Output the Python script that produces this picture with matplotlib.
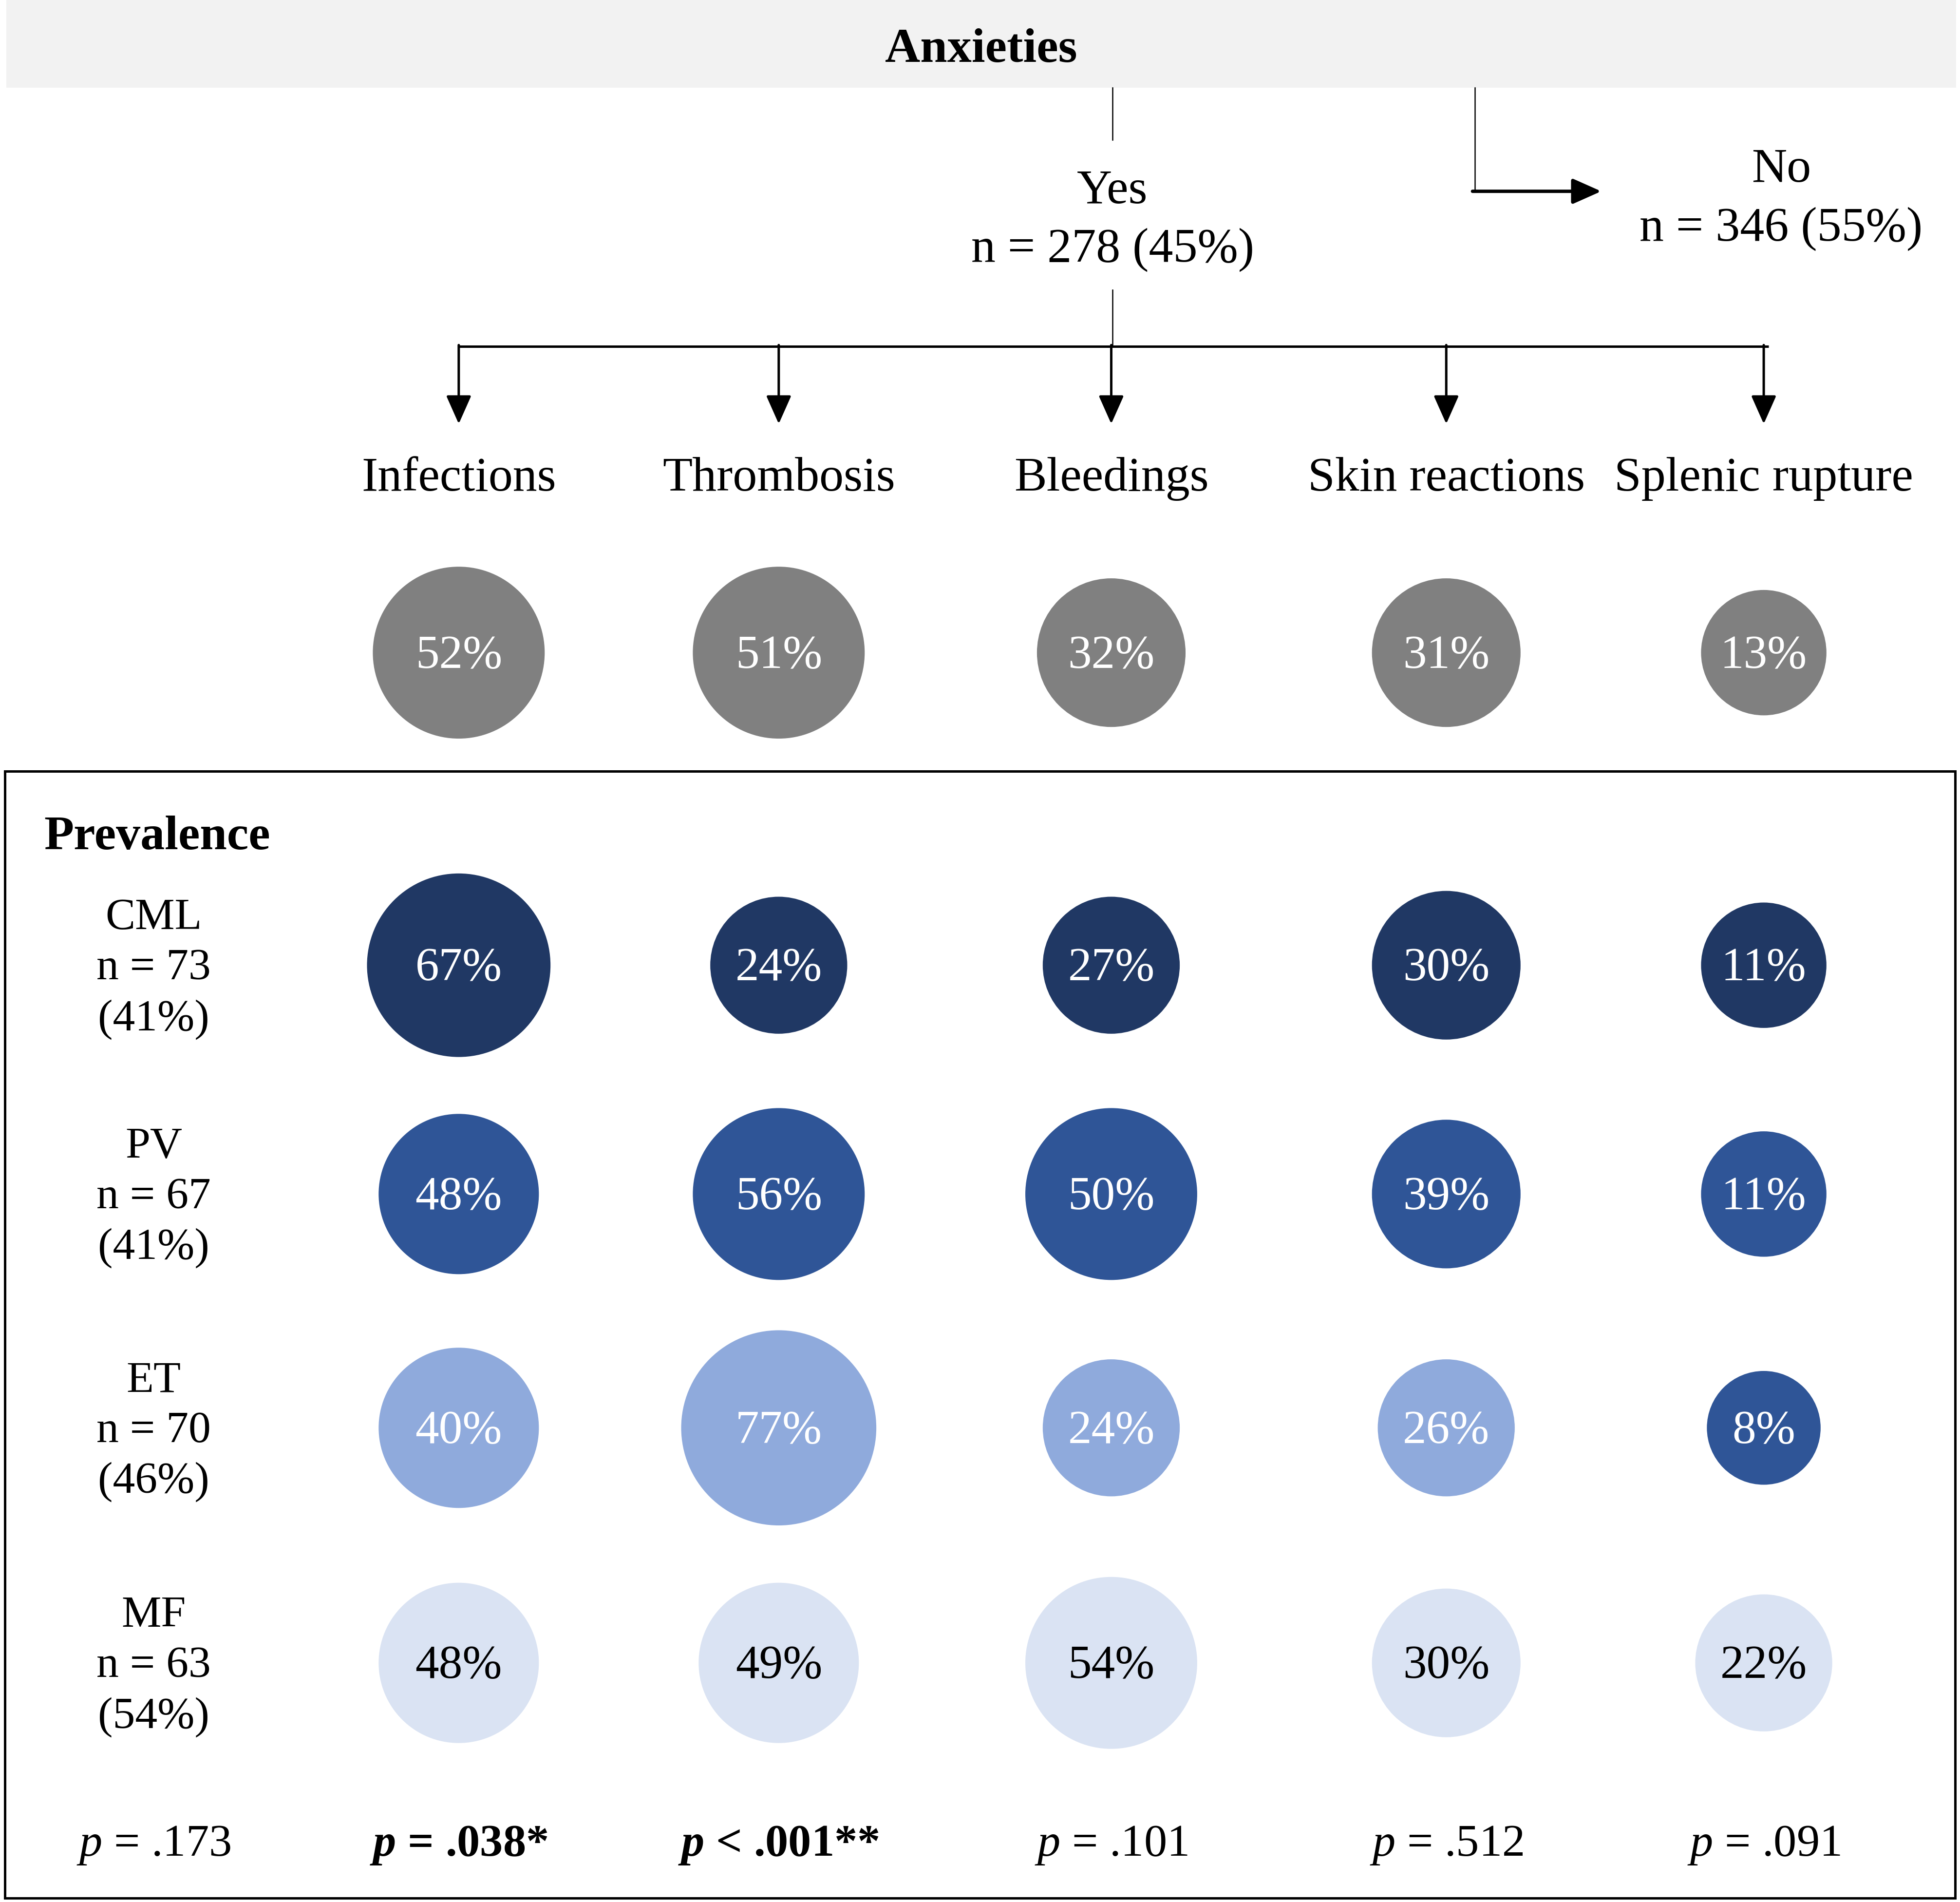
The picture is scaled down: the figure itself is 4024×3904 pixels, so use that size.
import numpy as np
import matplotlib
matplotlib.use("Agg")
import matplotlib.pyplot as plt
from matplotlib.patches import Circle, Rectangle

plt.rcParams["font.family"] = ["Liberation Serif", "DejaVu Serif"]
plt.rcParams["mathtext.fontset"] = "custom"
plt.rcParams["mathtext.rm"] = "Liberation Serif"
plt.rcParams["mathtext.it"] = "Liberation Serif:italic"
plt.rcParams["mathtext.bf"] = "Liberation Serif:bold"
plt.rcParams["mathtext.bfit"] = "Liberation Serif:italic:bold"

# ---- data ----
categories = ["Infections", "Thrombosis", "Bleedings", "Skin reactions", "Splenic rupture"]
overall = [52, 51, 32, 31, 13]

groups = ["CML", "PV", "ET", "MF"]
group_n = [73, 67, 70, 63]
group_pct = [41, 41, 46, 54]

cml = [67, 24, 27, 30, 11]
pv = [48, 56, 50, 39, 11]
et = [40, 77, 24, 26, 8]
mf = [48, 49, 54, 30, 22]

p_values = ["= .173", "= .038*", "< .001**", "= .101", "= .512", "= .091"]
p_signif = [False, True, True, False, False, False]

yes_n, yes_pct = 278, 45
no_n, no_pct = 346, 55

# ---- style ----
row_colors = ["#203864", "#2f5597", "#8faadc", "#dae3f3"]
row_text = ["white", "white", "white", "black"]
cell_color_override = {(2, 4): "#2f5597"}   # ET / splenic rupture drawn in PV blue
gray = "#808080"

W = 1568.0
H = W * 3904 / 4024
col_x = [367, 623, 889, 1157, 1411]
label_x = 123
row_y = [772, 955, 1142, 1330]
gray_y = 522
p_y = 1473
DY = 3  # text baseline nudge


def diameter(v):
    # bubble size grows in steps of 10 %
    return 91 + 9.3 * np.floor(v / 10)


fig = plt.figure(figsize=(40.24, 39.04), dpi=100)
ax = fig.add_axes([0, 0, 1, 1])
ax.set_xlim(0, W)
ax.set_ylim(H, 0)
ax.axis("off")

FS = 72
FS_ROW = 66
FS_P = 68
ARROW = "-|>,head_length=3.6,head_width=1.6"

# header band
ax.add_patch(Rectangle((5, 0), 1560, 70, facecolor="#f2f2f2", edgecolor="none"))
ax.text(785, 37 + DY, "Anxieties", ha="center", va="center", fontsize=FS, fontweight="bold")

# tree: yes / no
ax.plot([890, 890], [70, 112], color="black", lw=1.8)
ax.text(890, 150 + DY, "Yes", ha="center", va="center", fontsize=FS)
ax.text(890, 197 + DY, f"n = {yes_n} ({yes_pct}%)", ha="center", va="center", fontsize=FS)
ax.plot([1180, 1180], [70, 153], color="black", lw=1.8)
ax.annotate("", xy=(1281, 153), xytext=(1178, 153),
            arrowprops=dict(arrowstyle=ARROW, color="black", lw=5,
                            shrinkA=0, shrinkB=0))
ax.text(1425, 133 + DY, "No", ha="center", va="center", fontsize=FS)
ax.text(1425, 180 + DY, f"n = {no_n} ({no_pct}%)", ha="center", va="center", fontsize=FS)

ax.plot([890, 890], [232, 277], color="black", lw=1.8)
ax.plot([col_x[0], 1415], [277, 277], color="black", lw=3.6, solid_capstyle="butt")
for x in col_x:
    ax.annotate("", xy=(x, 339), xytext=(x, 276),
                arrowprops=dict(arrowstyle=ARROW, color="black", lw=3.6,
                                shrinkA=0, shrinkB=0))

# categories + overall bubbles
for x, cat, v in zip(col_x, categories, overall):
    ax.text(x, 380 + DY, cat, ha="center", va="center", fontsize=FS)
    ax.add_patch(Circle((x, gray_y), diameter(v) / 2, facecolor=gray, edgecolor="none"))
    ax.text(x, gray_y + DY, f"{v}%", ha="center", va="center", fontsize=70, color="white")

# prevalence box
ax.add_patch(Rectangle((4, 617), 1560, 901, facecolor="none", edgecolor="black", lw=3.6))
ax.text(35, 667 + DY, "Prevalence", ha="left", va="center", fontsize=FS, fontweight="bold")

rows = [cml, pv, et, mf]
for r, (g, n, pct, vals, y) in enumerate(zip(groups, group_n, group_pct, rows, row_y)):
    ax.text(label_x, y + DY, f"{g}\nn = {n}\n({pct}%)", ha="center", va="center",
            fontsize=FS_ROW, linespacing=1.33)
    for c, (x, v) in enumerate(zip(col_x, vals)):
        fc = cell_color_override.get((r, c), row_colors[r])
        ax.add_patch(Circle((x, y), diameter(v) / 2, facecolor=fc, edgecolor="none"))
        ax.text(x, y + DY, f"{v}%", ha="center", va="center", fontsize=70, color=row_text[r])

# p values
for x, p, sig in zip([label_x] + col_x, p_values, p_signif):
    if sig:
        ax.text(x, p_y + DY, r"$\mathbfit{p}$ " + p, ha="center", va="center",
                fontsize=FS_P, fontweight="bold")
    else:
        ax.text(x, p_y + DY, r"$\mathit{p}$ " + p, ha="center", va="center", fontsize=FS_P)

fig.savefig("out.png", dpi=100)
